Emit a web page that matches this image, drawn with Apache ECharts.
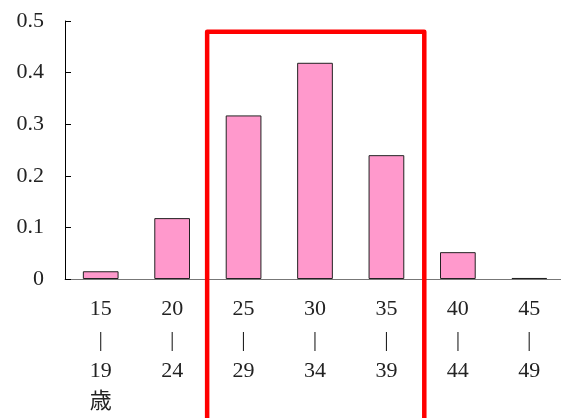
<!DOCTYPE html>
<html>
<head>
<meta charset="utf-8">
<script src="https://cdn.jsdelivr.net/npm/echarts@6/dist/echarts.min.js"></script>
<style>
html,body{margin:0;padding:0;background:#fff;}
#chart{width:561px;height:418px;}
</style>
</head>
<body>
<div id="chart"></div>
<script>
var categories = ['15\n|\n19\n歳', '20\n|\n24', '25\n|\n29', '30\n|\n34', '35\n|\n39', '40\n|\n44', '45\n|\n49'];
var values = [0.015, 0.118, 0.317, 0.419, 0.240, 0.052, 0.002];
var yTicks = [0, 0.1, 0.2, 0.3, 0.4, 0.5];
var highlightFrom = 2, highlightTo = 4, highlightTop = 0.479;

var chart = echarts.init(document.getElementById('chart'));
var fontFam = '"Liberation Serif", "DejaVu Serif", "Noto Sans CJK JP", serif';
chart.setOption({
  animation: false,
  grid: {left: 65, top: 21, width: 500, height: 258, containLabel: false, outerBoundsMode: 'none'},
  xAxis: {
    type: 'category',
    data: categories,
    axisLine: {lineStyle: {color: '#777', width: 1}},
    axisTick: {show: false},
    axisLabel: {
      color: '#222', fontFamily: fontFam, fontSize: 22, lineHeight: 31, margin: 15, interval: 0
    }
  },
  yAxis: {
    type: 'value', min: 0, max: 0.5, interval: 0.1,
    splitLine: {show: false},
    axisLine: {show: true, lineStyle: {color: '#000', width: 1}},
    axisTick: {show: true, inside: true, length: 6, lineStyle: {color: '#000'}},
    axisLabel: {
      color: '#222', fontFamily: fontFam, fontSize: 22, margin: 21,
      formatter: function (v) { return v === 0 ? '0' : v.toFixed(1); }
    }
  },
  series: [{
    type: 'bar',
    data: values,
    barWidth: '50%',
    itemStyle: {color: '#FF99CC', borderColor: '#222', borderWidth: 1}
  }]
});

function placeBox() {
  var c1 = chart.convertToPixel({xAxisIndex: 0}, highlightFrom - 1);
  var c2 = chart.convertToPixel({xAxisIndex: 0}, highlightFrom);
  var c3 = chart.convertToPixel({xAxisIndex: 0}, highlightTo);
  var c4 = chart.convertToPixel({xAxisIndex: 0}, highlightTo + 1);
  var left = c1 + (c2 - c1) * 0.49, right = c3 + (c4 - c3) * 0.53;
  var top = chart.convertToPixel({yAxisIndex: 0}, highlightTop);
  chart.setOption({
    graphic: [{
      type: 'polyline',
      shape: {points: [[left, 430], [left, top], [right, top], [right, 430]]},
      style: {stroke: '#FF0000', lineWidth: 4.5, fill: null, lineJoin: 'round'},
      z: 100
    }]
  });
}
placeBox();
</script>
</body>
</html>
